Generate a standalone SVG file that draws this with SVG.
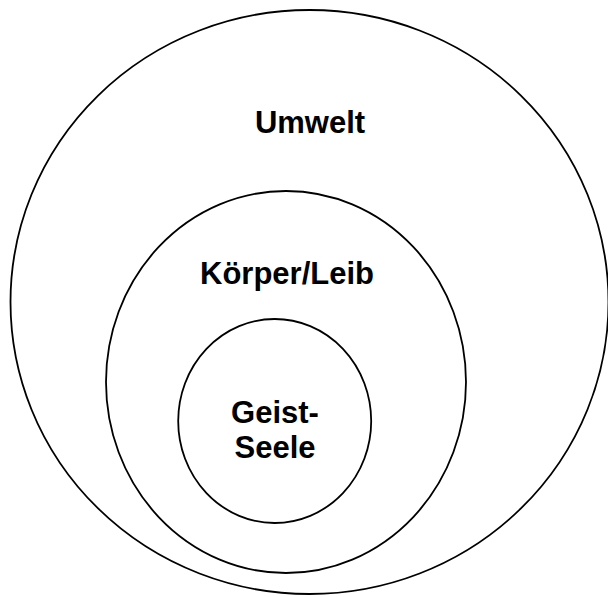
<svg xmlns="http://www.w3.org/2000/svg" width="608" height="597" viewBox="0 0 608 597">
<style>
.ring{fill:none;stroke:#000;stroke-width:1.8}
.lbl{font-family:"Liberation Sans",Arial,sans-serif;font-weight:bold;font-size:31px;fill:#000;text-anchor:middle}
</style>
<rect width="608" height="597" fill="#fff"/>
<g id="umwelt">
<ellipse class="ring" cx="309.5" cy="302" rx="299" ry="292"/>
<text class="lbl" x="310" y="133">Umwelt</text>
</g>
<g id="koerper-leib">
<ellipse class="ring" cx="286" cy="382" rx="180" ry="191"/>
<text class="lbl" x="287" y="284">Körper/Leib</text>
</g>
<g id="geist-seele">
<ellipse class="ring" cx="274.7" cy="421" rx="96.5" ry="102"/>
<text class="lbl" x="275" y="423">Geist-</text>
<text class="lbl" x="275" y="458">Seele</text>
</g>
<g id="connectors"></g>
</svg>
